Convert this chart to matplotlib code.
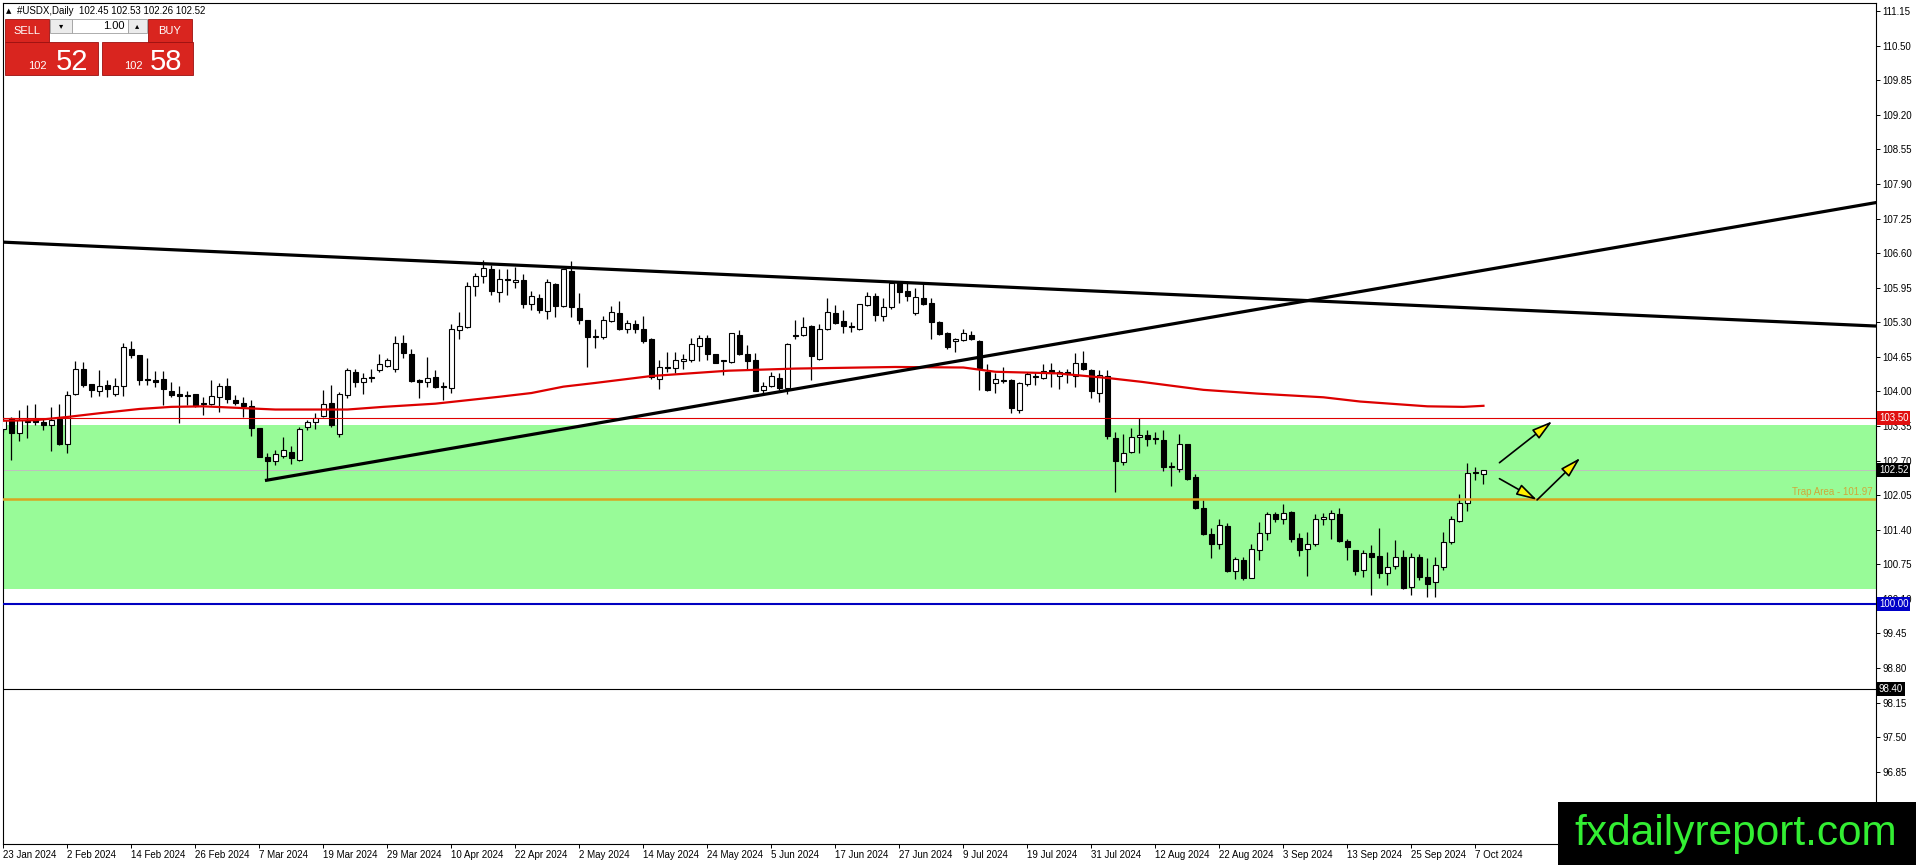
import numpy as np
import matplotlib
matplotlib.use("Agg")
import matplotlib.pyplot as plt
from matplotlib.patches import Rectangle
from matplotlib import transforms

plt.rcParams['font.family'] = ['Liberation Sans', 'DejaVu Sans']

# #USDX daily candles, bar 0 = 23 Jan 2024
opens = [103.30, 103.51, 103.21, 103.42, 103.46, 103.42, 103.36, 103.49, 103.02, 103.95,
         104.42, 104.14, 104.00, 104.12, 103.96, 104.10, 104.80, 104.68, 104.24, 104.21,
         104.23, 104.01, 103.95, 103.93, 103.96, 103.77, 103.77, 103.89, 104.10, 103.84,
         103.79, 103.73, 103.32, 102.76, 102.70, 102.78, 102.87, 102.71, 103.34, 103.42,
         103.54, 103.79, 103.20, 103.94, 104.36, 104.17, 104.28, 104.40, 104.48, 104.43,
         104.92, 104.70, 104.21, 104.17, 104.27, 104.11, 104.06, 105.15, 105.21, 105.99,
         106.17, 106.31, 105.87, 106.12, 106.05, 106.09, 105.64, 105.75, 105.52, 106.02,
         105.61, 106.27, 105.56, 105.34, 105.02, 105.03, 105.32, 105.47, 105.18, 105.27,
         105.17, 104.98, 104.24, 104.46, 104.45, 104.57, 104.59, 104.86, 105.00, 104.70,
         104.58, 104.56, 105.07, 104.70, 104.59, 104.03, 104.11, 104.26, 104.07, 105.07,
         105.06, 105.23, 104.61, 105.17, 105.47, 105.32, 105.22, 105.17, 105.62, 105.79,
         105.42, 105.58, 106.03, 105.89, 105.47, 105.75, 105.67, 105.31, 105.10, 104.95,
         104.96, 105.06, 104.95, 104.37, 104.15, 104.19, 104.21, 103.66, 104.14, 104.29,
         104.25, 104.41, 104.29, 104.36, 104.29, 104.53, 104.41, 103.98, 104.29, 103.12,
         102.68, 102.87, 103.14, 103.19, 103.12, 103.09, 102.58, 102.55, 103.01, 102.40,
         101.80, 101.32, 101.13, 101.47, 100.62, 100.83, 100.50, 101.01, 101.33, 101.69,
         101.61, 101.74, 101.24, 101.03, 101.14, 101.60, 101.61, 101.70, 101.19, 101.01,
         100.64, 100.96, 100.91, 100.59, 100.71, 100.89, 100.32, 100.89, 100.52, 100.42,
         100.69, 101.16, 101.57, 101.90, 102.49, 102.45]
highs = [103.52, 103.52, 103.65, 103.74, 103.77, 103.49, 103.70, 103.77, 104.01, 104.57,
         104.55, 104.14, 104.40, 104.22, 104.26, 104.91, 104.95, 104.68, 104.63, 104.39,
         104.39, 104.17, 104.10, 104.01, 103.96, 103.90, 104.21, 104.16, 104.26, 103.93,
         103.90, 103.84, 103.32, 102.85, 102.90, 103.14, 102.98, 103.34, 103.46, 103.60,
         104.03, 104.12, 103.99, 104.45, 104.43, 104.34, 104.42, 104.70, 104.62, 105.04,
         105.06, 104.79, 104.24, 104.64, 104.40, 104.17, 105.27, 105.50, 106.06, 106.23,
         106.48, 106.37, 106.31, 106.31, 106.34, 106.21, 105.89, 105.84, 106.12, 106.03,
         106.31, 106.45, 105.86, 105.34, 105.17, 105.42, 105.60, 105.70, 105.34, 105.34,
         105.42, 105.00, 104.59, 104.75, 104.75, 104.70, 105.00, 105.07, 105.06, 104.71,
         104.60, 105.10, 105.15, 104.87, 104.73, 104.18, 104.37, 104.34, 104.92, 105.34,
         105.40, 105.25, 105.27, 105.76, 105.62, 105.53, 105.31, 105.64, 105.87, 105.85,
         105.75, 106.08, 106.06, 106.07, 105.94, 106.03, 105.75, 105.33, 105.12, 105.01,
         105.17, 105.13, 104.96, 104.51, 104.34, 104.46, 104.23, 104.18, 104.37, 104.37,
         104.51, 104.53, 104.41, 104.43, 104.72, 104.76, 104.43, 104.40, 104.40, 103.24,
         103.20, 103.32, 103.51, 103.27, 103.24, 103.27, 102.68, 103.20, 103.02, 102.45,
         101.95, 101.43, 101.60, 101.53, 100.89, 100.89, 101.14, 101.55, 101.74, 101.74,
         101.88, 101.75, 101.34, 101.36, 101.70, 101.72, 101.78, 101.80, 101.22, 101.02,
         101.02, 101.11, 101.43, 100.99, 101.21, 101.02, 100.96, 100.94, 100.86, 100.88,
         101.35, 101.66, 102.07, 102.65, 102.57, 102.53]
lows = [103.24, 102.71, 103.07, 103.12, 103.37, 103.27, 102.88, 102.99, 102.85, 103.94,
        104.09, 103.90, 103.91, 103.90, 103.91, 103.91, 104.62, 104.12, 104.12, 104.09,
        103.74, 103.90, 103.40, 103.74, 103.71, 103.55, 103.74, 103.62, 103.79, 103.74,
        103.52, 103.16, 102.76, 102.33, 102.62, 102.74, 102.63, 102.70, 103.27, 103.29,
        103.52, 103.34, 103.14, 103.88, 104.09, 103.95, 104.17, 104.36, 104.46, 104.37,
        104.63, 104.18, 103.88, 104.09, 104.06, 103.83, 103.98, 104.99, 105.20, 105.80,
        106.03, 105.81, 105.69, 105.81, 105.94, 105.56, 105.54, 105.47, 105.37, 105.40,
        105.58, 105.40, 105.27, 104.46, 104.82, 104.98, 105.30, 105.15, 105.09, 105.09,
        104.92, 104.24, 104.04, 104.37, 104.35, 104.43, 104.56, 104.58, 104.59, 104.53,
        104.31, 104.54, 104.68, 104.40, 104.01, 103.96, 104.09, 104.03, 103.96, 104.99,
        105.04, 104.21, 104.59, 105.15, 105.27, 105.09, 105.12, 105.15, 105.60, 105.33,
        105.33, 105.55, 105.67, 105.70, 105.44, 105.62, 104.99, 105.06, 104.79, 104.75,
        104.95, 104.96, 104.03, 104.00, 103.98, 104.15, 103.60, 103.60, 104.10, 104.12,
        104.23, 104.08, 104.04, 104.16, 104.09, 104.40, 103.88, 103.81, 103.10, 102.11,
        102.62, 102.85, 102.85, 102.97, 103.02, 102.51, 102.22, 102.49, 102.33, 101.79,
        101.30, 100.86, 101.04, 100.60, 100.47, 100.45, 100.49, 100.83, 101.21, 101.55,
        101.50, 101.17, 100.91, 100.53, 101.10, 101.49, 101.23, 101.17, 100.83, 100.55,
        100.52, 100.17, 100.49, 100.36, 100.67, 100.28, 100.17, 100.45, 100.13, 100.14,
        100.64, 101.13, 101.55, 101.76, 102.33, 102.26]
closes = [103.47, 103.21, 103.46, 103.45, 103.43, 103.36, 103.47, 103.01, 103.93, 104.42,
          104.12, 104.03, 104.10, 104.04, 104.10, 104.83, 104.68, 104.21, 104.22, 104.18,
          104.04, 103.94, 103.91, 103.91, 103.73, 103.76, 103.91, 104.10, 103.85, 103.79,
          103.73, 103.32, 102.77, 102.70, 102.82, 102.89, 102.74, 103.30, 103.42, 103.51,
          103.77, 103.37, 103.96, 104.40, 104.18, 104.26, 104.25, 104.51, 104.60, 104.92,
          104.73, 104.20, 104.18, 104.26, 104.09, 104.08, 105.17, 105.23, 105.98, 106.17,
          106.33, 105.89, 106.12, 106.09, 106.09, 105.65, 105.79, 105.53, 106.05, 105.61,
          106.30, 105.59, 105.34, 105.03, 105.05, 105.34, 105.49, 105.17, 105.28, 105.18,
          104.95, 104.28, 104.46, 104.45, 104.59, 104.61, 104.90, 105.00, 104.71, 104.54,
          104.59, 105.09, 104.71, 104.58, 104.01, 104.11, 104.29, 104.06, 104.90, 105.05,
          105.22, 104.67, 105.18, 105.49, 105.29, 105.23, 105.21, 105.64, 105.79, 105.44,
          105.58, 106.03, 105.87, 105.80, 105.78, 105.65, 105.31, 105.08, 104.84, 104.98,
          105.09, 104.98, 104.45, 104.03, 104.23, 104.21, 103.68, 104.16, 104.33, 104.27,
          104.39, 104.34, 104.37, 104.33, 104.53, 104.42, 104.01, 104.31, 103.17, 102.70,
          102.85, 103.14, 103.18, 103.11, 103.10, 102.57, 102.59, 103.02, 102.35, 101.81,
          101.32, 101.14, 101.49, 100.63, 100.85, 100.50, 101.03, 101.34, 101.70, 101.60,
          101.71, 101.22, 101.02, 101.14, 101.60, 101.63, 101.71, 101.19, 101.07, 100.63,
          100.97, 100.89, 100.59, 100.69, 100.89, 100.30, 100.89, 100.52, 100.38, 100.74,
          101.16, 101.60, 101.91, 102.46, 102.46, 102.52]

date_ticks = [0, 8, 16, 24, 32, 40, 48, 56, 64, 72, 80, 88, 96, 104, 112, 120, 128, 136,
              144, 152, 160, 168, 176, 184]
date_labels = ["23 Jan 2024", "2 Feb 2024", "14 Feb 2024", "26 Feb 2024", "7 Mar 2024",
               "19 Mar 2024", "29 Mar 2024", "10 Apr 2024", "22 Apr 2024", "2 May 2024",
               "14 May 2024", "24 May 2024", "5 Jun 2024", "17 Jun 2024", "27 Jun 2024",
               "9 Jul 2024", "19 Jul 2024", "31 Jul 2024", "12 Aug 2024", "22 Aug 2024",
               "3 Sep 2024", "13 Sep 2024", "25 Sep 2024", "7 Oct 2024"]

price_ticks = [96.85, 97.50, 98.15, 98.80, 99.45, 100.10, 100.75, 101.40, 102.05, 102.70,
               103.35, 104.00, 104.65, 105.30, 105.95, 106.60, 107.25, 107.90, 108.55,
               109.20, 109.85, 110.50, 111.15]

# moving average (red), sampled along the drawn line
ma_bars = [0, 4, 8, 12, 17, 21, 25, 34, 43, 47.5, 54, 62, 66, 70, 74, 81, 90.6, 99,
           111.5, 120, 124, 131.7, 138.2, 142.3, 150, 156.7, 165, 169.6, 178, 182.5, 185]
ma_vals = [103.45, 103.46, 103.52, 103.59, 103.67, 103.71, 103.72, 103.66, 103.66, 103.71,
           103.77, 103.90, 103.97, 104.09, 104.16, 104.29, 104.39, 104.43, 104.46, 104.45,
           104.37, 104.34, 104.25, 104.18, 104.03, 103.96, 103.89, 103.81, 103.72, 103.71,
           103.73]

# trend lines
res_bars = [-0.4, 234.0]
res_vals = [106.81, 105.23]
sup_bars = [32.9, 234.0]
sup_vals = [102.33, 107.55]

zone_low, zone_high = 100.29, 103.37
red_level = 103.50
trap_level = 101.97
blue_level = 100.00
black_level = 98.40
bid = 102.52

arrows = [((187.0, 102.66), (193.6, 103.44)),
          ((187.0, 102.36), (191.7, 101.96)),
          ((191.7, 101.96), (197.1, 102.75))]

W, H = 1916, 865
fig = plt.figure(figsize=(W / 100, H / 100), dpi=100)
fig.patch.set_facecolor('white')
ax = fig.add_axes([2.7 / W, 21 / H, (1875.5 - 2.7) / W, (844 - 2.7) / H])

ax.axhspan(zone_low, zone_high, color='#98fb98', lw=0, zorder=0)
ax.axhline(bid, color='#c0c0c0', lw=0.7, zorder=1)

o = np.array(opens)
h = np.array(highs)
l = np.array(lows)
c = np.array(closes)
idx = np.arange(len(o))
up = c >= o
body_lo = np.minimum(o, c)
body_h = np.maximum(np.abs(c - o), 0.015)
ax.vlines(idx, l, h, color='black', lw=0.9, zorder=3)
ax.bar(idx[up], body_h[up], bottom=body_lo[up], width=0.55, color='white',
       edgecolor='black', linewidth=0.8, zorder=4)
ax.bar(idx[~up], body_h[~up], bottom=body_lo[~up], width=0.55, color='black',
       edgecolor='black', linewidth=0.8, zorder=4)

ax.plot(ma_bars, ma_vals, color='#dd0000', lw=1.6, zorder=5)
ax.plot(res_bars, res_vals, color='black', lw=2.3, zorder=6)
ax.plot(sup_bars, sup_vals, color='black', lw=2.3, zorder=6)

ax.axhline(red_level, color='#e00000', lw=0.8, zorder=5)
ax.axhline(trap_level, color='#d9a520', lw=1.8, zorder=5)
ax.axhline(blue_level, color='#0000c0', lw=1.5, zorder=5)
ax.axhline(black_level, color='black', lw=0.8, zorder=5)
ax.text(233.6, trap_level + 0.04, 'Trap Area - 101.97', ha='right', va='bottom',
        fontsize=7, color='#cfa93a', zorder=6)

for start, end in arrows:
    ax.annotate('', xy=end, xytext=start,
                arrowprops=dict(arrowstyle='-|>,head_length=0.9,head_width=0.25',
                                fc='#ffee00', ec='black', lw=1.2, mutation_scale=14,
                                shrinkA=0, shrinkB=0), zorder=7)

ax.set_xlim(-0.075, 234.0)
ax.set_ylim(95.49, 111.31)
for s in ax.spines.values():
    s.set_color('black')
    s.set_linewidth(0.8)

ax.yaxis.tick_right()
ax.set_yticks(price_ticks)
ax.set_yticklabels([f'{v:.2f}' for v in price_ticks])
ax.tick_params(axis='y', direction='out', length=3, width=0.7, pad=2, labelsize=7)
ax.set_xticks(date_ticks)
ax.set_xticklabels(date_labels, ha='left')
ax.tick_params(axis='x', direction='out', length=3, width=0.7, pad=1, labelsize=7)

# price tags on the right scale
tag_tr = transforms.blended_transform_factory(ax.transAxes, ax.transData)
for val, bg in [(red_level, '#e01010'), (bid, 'black'), (blue_level, '#0000c8'),
                (black_level, 'black')]:
    ax.text(1.0018, val, f'{val:.2f}', transform=tag_tr, ha='left', va='center',
            fontsize=7, color='white', zorder=10, clip_on=False,
            bbox=dict(boxstyle='square,pad=0.18', fc=bg, ec='none'))


def box(x0, y0, x1, y1, **kw):
    fig.add_artist(Rectangle((x0 / W, 1 - y1 / H), (x1 - x0) / W, (y1 - y0) / H,
                             transform=fig.transFigure, **kw))


def ftext(x, y, s, **kw):
    fig.text(x / W, 1 - y / H, s, **kw)


# header
ftext(6, 11, '▲', fontsize=5, va='center', family='DejaVu Sans')
ftext(17, 11, '#USDX,Daily  102.45 102.53 102.26 102.52', fontsize=7, va='center')

# one-click trading panel
red = '#d9251f'
edge = '#9c1010'
box(5, 19, 49, 42, fc=red, ec=edge, lw=0.6, zorder=3)
box(148, 19, 192, 42, fc=red, ec=edge, lw=0.6, zorder=3)
box(50, 19, 72, 33, fc='#ececec', ec='#a0a0a0', lw=0.6, zorder=3)
box(72, 19, 128, 33, fc='white', ec='#a0a0a0', lw=0.6, zorder=3)
box(128, 19, 147, 33, fc='#ececec', ec='#a0a0a0', lw=0.6, zorder=3)
box(5, 42, 98, 75, fc=red, ec=edge, lw=0.6, zorder=3)
box(102, 42, 193, 75, fc=red, ec=edge, lw=0.6, zorder=3)
ftext(27, 30.5, 'SELL', fontsize=8, color='white', ha='center', va='center', zorder=4)
ftext(170, 30.5, 'BUY', fontsize=8, color='white', ha='center', va='center', zorder=4)
ftext(61, 26, '▾', fontsize=6, ha='center', va='center', family='DejaVu Sans', zorder=4)
ftext(137.5, 26, '▴', fontsize=6, ha='center', va='center', family='DejaVu Sans', zorder=4)
ftext(125, 26, '1.00', fontsize=8, ha='right', va='center', zorder=4)
ftext(47, 69, '102', fontsize=8, color='white', ha='right', va='baseline', zorder=4)
ftext(56, 70, '52', fontsize=21, color='white', ha='left', va='baseline', zorder=4)
ftext(143, 69, '102', fontsize=8, color='white', ha='right', va='baseline', zorder=4)
ftext(150, 70, '58', fontsize=21, color='white', ha='left', va='baseline', zorder=4)

# watermark
box(1558, 802, 1916, 865, fc='black', ec='none', zorder=8)
ftext(1736, 845, 'fxdailyreport.com', fontsize=30.5, color='#33ee33', ha='center',
      va='baseline', zorder=9)

fig.savefig('out.png', dpi=100, facecolor='white')
